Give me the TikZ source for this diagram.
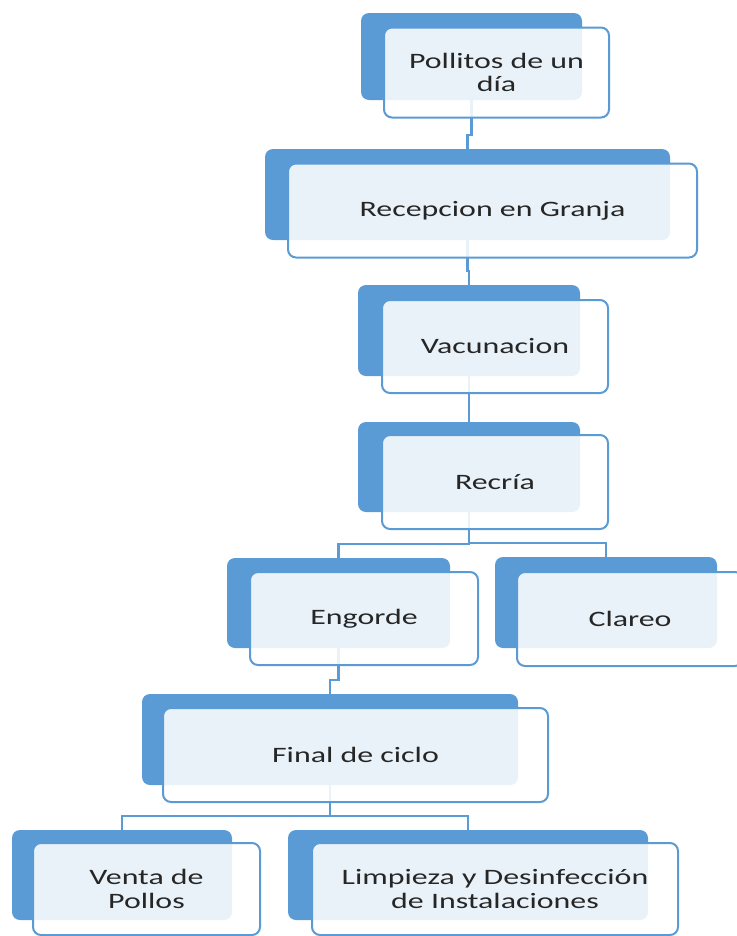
\documentclass[tikz,border=0pt]{standalone}
\usepackage{fontspec}
\newfontfamily\stagefont[FakeStretch=1.45]{Carlito}
\definecolor{smartblue}{HTML}{5B9BD5}
\definecolor{stagetext}{HTML}{262626}

\begin{document}
\begin{tikzpicture}[x=0.75pt, y=-0.75pt,
   stage back/.style={fill=smartblue, rounded corners=6pt, inner sep=0pt, outer sep=0pt},
   stage front/.style={draw=smartblue, line width=1.5pt, fill=white, fill opacity=0.87,
      text opacity=1, rounded corners=6pt, inner sep=0pt, outer sep=0pt, align=center,
      text=stagetext, font=\stagefont\fontsize{16.5}{17.6}\selectfont},
   box size/.style 2 args={minimum width=#1*0.75pt, minimum height=#2*0.75pt},
   link/.style={draw=smartblue, line width=2pt}]
\useasboundingbox (0,0) rectangle (736,936);

% blue back boxes
\node[stage back, box size={221}{87}] (pollitos) at (471.5,56.5) {};
\node[stage back, box size={405}{91}] (recepcion) at (467.5,194.5) {};
\node[stage back, box size={222}{91}] (vacunacion) at (469,330.5) {};
\node[stage back, box size={222}{90}] (recria) at (469,467) {};
\node[stage back, box size={223}{90}] (engorde) at (338.5,603) {};
\node[stage back, box size={222}{91}] (clareo) at (606,602.5) {};
\node[stage back, box size={376}{91}] (final) at (330,739.5) {};
\node[stage back, box size={220}{90}] (venta) at (122,875) {};
\node[stage back, box size={360}{90}] (limpieza) at (468,875) {};

% links, child up to the fork, then over to the parent
\foreach \parent/\child in {pollitos/recepcion, recepcion/vacunacion, vacunacion/recria,
   recria/engorde, recria/clareo, engorde/final, final/venta, final/limpieza}
   \draw[link] (\child.north) -- ++(0,-14) -| (\parent.south);

% white front boxes with the text
\node[stage front, box size={225}{90}] (pollitos-f) at ([shift={(25,16)}]pollitos.center) {Pollitos de un\\d\'ia};
\node[stage front, box size={409}{94}] (recepcion-f) at ([shift={(25,16)}]recepcion.center) {Recepcion en Granja};
\node[stage front, box size={226}{93}] (vacunacion-f) at ([shift={(26,16)}]vacunacion.center) {Vacunacion};
\node[stage front, box size={226}{94}] (recria-f) at ([shift={(26,15)}]recria.center) {Recr\'ia};
\node[stage front, box size={228}{93}] (engorde-f) at ([shift={(25.5,15.5)}]engorde.center) {Engorde};
\node[stage front, box size={226}{94}] (clareo-f) at ([shift={(24,16.5)}]clareo.center) {Clareo};
\node[stage front, box size={385}{94}] (final-f) at ([shift={(25.5,15.5)}]final.center) {Final de ciclo};
\node[stage front, box size={227}{92}] (venta-f) at ([shift={(24.5,14)}]venta.center) {Venta de\\Pollos};
\node[stage front, box size={366}{92}] (limpieza-f) at ([shift={(27,14)}]limpieza.center) {Limpieza y Desinfecci\'on\\de Instalaciones};
\end{tikzpicture}
\end{document}
